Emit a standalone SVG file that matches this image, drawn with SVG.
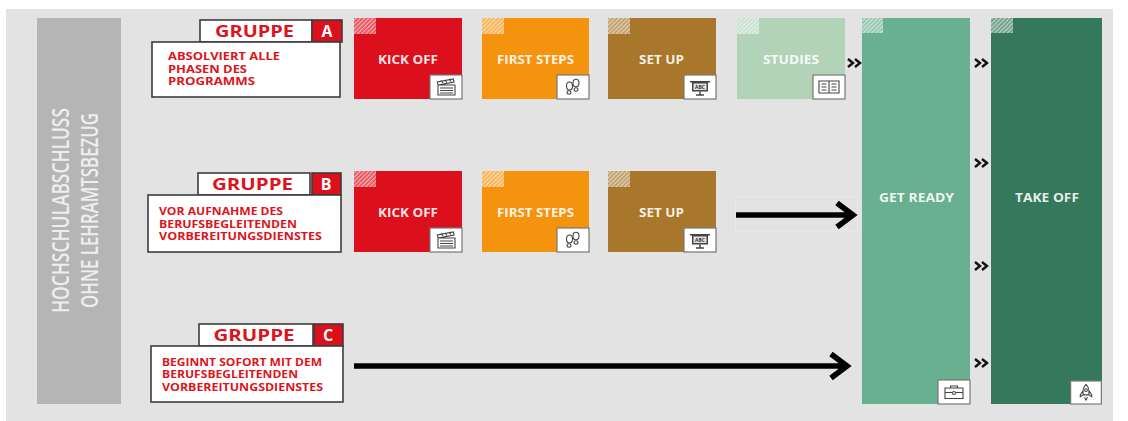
<svg xmlns="http://www.w3.org/2000/svg" xmlns:xlink="http://www.w3.org/1999/xlink" width="1128" height="421" viewBox="0 0 1128 421">
<style>
text{font-family:"Open Sans","Liberation Sans",sans-serif}
.t{fill:#fff;font-size:12px;font-weight:700;text-anchor:middle;fill-opacity:.9}
.tab{fill:#fff;stroke:#3c3c3c;stroke-width:1.6}
.box{fill:#fff;stroke:#3c3c3c;stroke-width:1.6}
.let{fill:#dc0f1c;stroke:#3c3c3c;stroke-width:1.6}
.g{fill:#dc1420;font-size:16.5px;font-weight:700;text-anchor:middle}
.l{fill:#fff;font-size:16px;font-weight:700;text-anchor:middle}
.d{fill:#dc1420;font-size:10px;font-weight:700}
.s{fill:#eeeeee;font-size:23.5px;font-weight:600;text-anchor:middle}
.ib{fill:#fff;stroke:#777;stroke-width:1.2}
.ic{fill:none;stroke:#444;stroke-width:1.1}
.chev{fill:none;stroke:#111;stroke-width:2.4}
.ar{fill:none;stroke:#000;stroke-width:5.6}
</style>
<defs>
<pattern id="h" width="3" height="3" patternUnits="userSpaceOnUse" patternTransform="rotate(-45)">
<rect width="3" height="3" fill="#fff" fill-opacity=".25"/>
<rect width="3" height="1.4" fill="#fff" fill-opacity=".55"/>
</pattern>
<symbol id="clap" viewBox="0 0 32 24" overflow="visible"><rect class="ib" x="0" y="0" width="32" height="24"/><path class="ic" d="M8 10h17v10H8zM8 10l-.7-3 16-3 .8 3zM10 13h13M10 15.500h13M10 18h13"/><path d="M11 5.500l2 2.500M15 5l2 2.500M19 4l2 2.500" stroke="#444" stroke-width="1.200" fill="none"/></symbol>
<symbol id="steps" viewBox="0 0 32 24" overflow="visible"><rect class="ib" x="0" y="0" width="32" height="24"/><g class="ic"><ellipse cx="12.500" cy="11" rx="3" ry="4"/><ellipse cx="12" cy="17.500" rx="2" ry="1.700"/><ellipse cx="19" cy="8" rx="3" ry="3.800"/><ellipse cx="19" cy="14.500" rx="2" ry="1.700"/></g></symbol>
<symbol id="board" viewBox="0 0 32 24" overflow="visible"><rect class="ib" x="0" y="0" width="32" height="24"/><path d="M6 6h20v1.500H6zM8 7.500h16v9H8z" fill="#444"/><rect x="9.500" y="8.500" width="13" height="6.500" fill="#e4e4e4"/><text x="16" y="13.800" font-size="5" font-weight="700" fill="#333" text-anchor="middle">ABC</text><path d="M16 16.500v3M12 20h8" stroke="#444" stroke-width="1.500"/></symbol>
<symbol id="book" viewBox="0 0 32 24" overflow="visible"><rect class="ib" x="0" y="0" width="32" height="24"/><path class="ic" d="M6 6h20v12H6zM16 6v12M8.500 9h5M8.500 12h5M8.500 15h5M18.500 9h5M18.500 12h5M18.500 15h5"/></symbol>
<symbol id="case" viewBox="0 0 32 24" overflow="visible"><rect class="ib" x="0" y="0" width="32" height="24"/><path class="ic" d="M7 8h18v10.500H7zM12.500 8V6h7v2M7 12.500h7M18 12.500h7"/><circle class="ic" cx="16" cy="13" r="1.500"/></symbol>
<symbol id="rocket" viewBox="0 0 32 24" overflow="visible"><rect class="ib" x="0" y="0" width="32" height="24"/><path class="ic" d="M16 3.500c3 2.500 3.500 6 3 11h-6c-.5-5 0-8.500 3-11zM13 10l-3 4.500v2l3-2M19 10l3 4.500v2l-3-2M14.500 17l1.500 3 1.500-3"/><circle class="ic" cx="16" cy="9.500" r="1.500"/></symbol>
<symbol id="dbl" viewBox="0 0 16 10" overflow="visible"><path class="chev" d="M1 1l5 4-5 4M8 1l5 4-5 4"/></symbol>
</defs>
<rect width="1128" height="421" fill="#fff"/>
<rect x="6" y="9" width="1107" height="412" fill="#e3e3e3"/>
<g id="side">
<rect x="37" y="18" width="84" height="386" fill="#b5b5b5"/>
<text class="s" transform="translate(69 210.500) rotate(-90)" textLength="205" lengthAdjust="spacingAndGlyphs">HOCHSCHULABSCHLUSS</text>
<text class="s" transform="translate(98 210.500) rotate(-90)" textLength="195" lengthAdjust="spacingAndGlyphs">OHNE LEHRAMTSBEZUG</text>
</g>
<g id="gruppe-a">
<rect class="tab" x="200" y="20" width="112" height="22"/><rect class="let" x="312" y="20" width="30" height="22"/>
<text class="g" x="254.500" y="37" textLength="79" lengthAdjust="spacingAndGlyphs">GRUPPE</text><text class="l" x="327" y="37">A</text>
<rect class="box" x="152" y="42" width="188" height="55"/>
<text class="d" x="168" y="60" textLength="112" lengthAdjust="spacingAndGlyphs">ABSOLVIERT ALLE</text><text class="d" x="168" y="73" textLength="79" lengthAdjust="spacingAndGlyphs">PHASEN DES</text><text class="d" x="168" y="85" textLength="87" lengthAdjust="spacingAndGlyphs">PROGRAMMS</text>
</g>
<g id="gruppe-b">
<rect class="tab" x="198" y="173" width="112" height="22"/><rect class="let" x="312" y="173" width="29" height="22"/>
<text class="g" x="252.500" y="190" textLength="81" lengthAdjust="spacingAndGlyphs">GRUPPE</text><text class="l" x="326" y="190">B</text>
<rect class="box" x="148" y="195" width="193" height="57"/>
<text class="d" x="159" y="215" textLength="124" lengthAdjust="spacingAndGlyphs">VOR AUFNAHME DES</text><text class="d" x="159" y="228" textLength="138" lengthAdjust="spacingAndGlyphs">BERUFSBEGLEITENDEN</text><text class="d" x="159" y="240" textLength="163" lengthAdjust="spacingAndGlyphs">VORBEREITUNGSDIENSTES</text>
</g>
<g id="gruppe-c">
<rect class="tab" x="199" y="324" width="114" height="22"/><rect class="let" x="314" y="324" width="29" height="22"/>
<text class="g" x="254" y="341" textLength="81" lengthAdjust="spacingAndGlyphs">GRUPPE</text><text class="l" x="328" y="341">C</text>
<rect class="box" x="151" y="346" width="192" height="56"/>
<text class="d" x="162" y="366" textLength="160" lengthAdjust="spacingAndGlyphs">BEGINNT SOFORT MIT DEM</text><text class="d" x="162" y="378" textLength="136" lengthAdjust="spacingAndGlyphs">BERUFSBEGLEITENDEN</text><text class="d" x="162" y="391" textLength="161" lengthAdjust="spacingAndGlyphs">VORBEREITUNGSDIENSTES</text>
</g>
<g id="a-kickoff"><rect x="354" y="18" width="108" height="81" fill="#dc0f1c"/><rect x="354" y="18" width="22" height="16" fill="url(#h)"/><text class="t" x="408" y="64" textLength="60" lengthAdjust="spacingAndGlyphs">KICK OFF</text><use xlink:href="#clap" href="#clap" x="430" y="75" width="32" height="24"/></g>
<g id="a-firststeps"><rect x="482" y="18" width="107" height="81" fill="#f3930e"/><rect x="482" y="18" width="22" height="16" fill="url(#h)"/><text class="t" x="535.500" y="64" textLength="77" lengthAdjust="spacingAndGlyphs">FIRST STEPS</text><use xlink:href="#steps" href="#steps" x="557" y="75" width="32" height="24"/></g>
<g id="a-setup"><rect x="608" y="18" width="108" height="81" fill="#a8772c"/><rect x="608" y="18" width="22" height="16" fill="url(#h)"/><text class="t" x="661.500" y="64" textLength="45" lengthAdjust="spacingAndGlyphs">SET UP</text><use xlink:href="#board" href="#board" x="684" y="75" width="32" height="24"/></g>
<g id="a-studies"><rect x="737" y="18" width="108" height="81" fill="#b3d3b9"/><rect x="737" y="18" width="22" height="16" fill="url(#h)"/><text class="t" x="791" y="64" textLength="56" lengthAdjust="spacingAndGlyphs">STUDIES</text><use xlink:href="#book" href="#book" x="813" y="75" width="32" height="24"/></g>
<g id="b-kickoff"><rect x="354" y="171" width="108" height="81" fill="#dc0f1c"/><rect x="354" y="171" width="22" height="16" fill="url(#h)"/><text class="t" x="408" y="217" textLength="60" lengthAdjust="spacingAndGlyphs">KICK OFF</text><use xlink:href="#clap" href="#clap" x="430" y="228" width="32" height="24"/></g>
<g id="b-firststeps"><rect x="482" y="171" width="107" height="81" fill="#f3930e"/><rect x="482" y="171" width="22" height="16" fill="url(#h)"/><text class="t" x="535.500" y="217" textLength="77" lengthAdjust="spacingAndGlyphs">FIRST STEPS</text><use xlink:href="#steps" href="#steps" x="557" y="228" width="32" height="24"/></g>
<g id="b-setup"><rect x="608" y="171" width="108" height="81" fill="#a8772c"/><rect x="608" y="171" width="22" height="16" fill="url(#h)"/><text class="t" x="661.500" y="217" textLength="45" lengthAdjust="spacingAndGlyphs">SET UP</text><use xlink:href="#board" href="#board" x="684" y="228" width="32" height="24"/></g>
<g id="getready"><rect x="862" y="18" width="108" height="386" fill="#68b08f"/><rect x="862" y="18" width="21" height="15" fill="url(#h)"/><text class="t" x="916.500" y="202" textLength="75" lengthAdjust="spacingAndGlyphs">GET READY</text><use xlink:href="#case" href="#case" x="938" y="380" width="32" height="24"/></g>
<g id="takeoff"><rect x="991" y="18" width="111" height="386" fill="#35785b"/><rect x="991" y="18" width="22" height="15" fill="url(#h)"/><text class="t" x="1047" y="202" textLength="64" lengthAdjust="spacingAndGlyphs">TAKE OFF</text><use xlink:href="#rocket" href="#rocket" x="1070" y="381" width="32" height="23"/></g>
<g id="connectors">
<rect x="735.500" y="197" width="122" height="34" fill="none" stroke="#e9e9e9" stroke-width="1"/>
<path class="ar" d="M736 215H853M837 203l16 12-16 12"/>
<path class="ar" d="M354 366H847M831 354l16 12-16 12"/>
<use xlink:href="#dbl" href="#dbl" x="847" y="58" width="16" height="10"/>
<use xlink:href="#dbl" href="#dbl" x="974" y="58" width="16" height="10"/>
<use xlink:href="#dbl" href="#dbl" x="974" y="158" width="16" height="10"/>
<use xlink:href="#dbl" href="#dbl" x="974" y="261" width="16" height="10"/>
<use xlink:href="#dbl" href="#dbl" x="974" y="358" width="16" height="10"/>
</g>
</svg>
